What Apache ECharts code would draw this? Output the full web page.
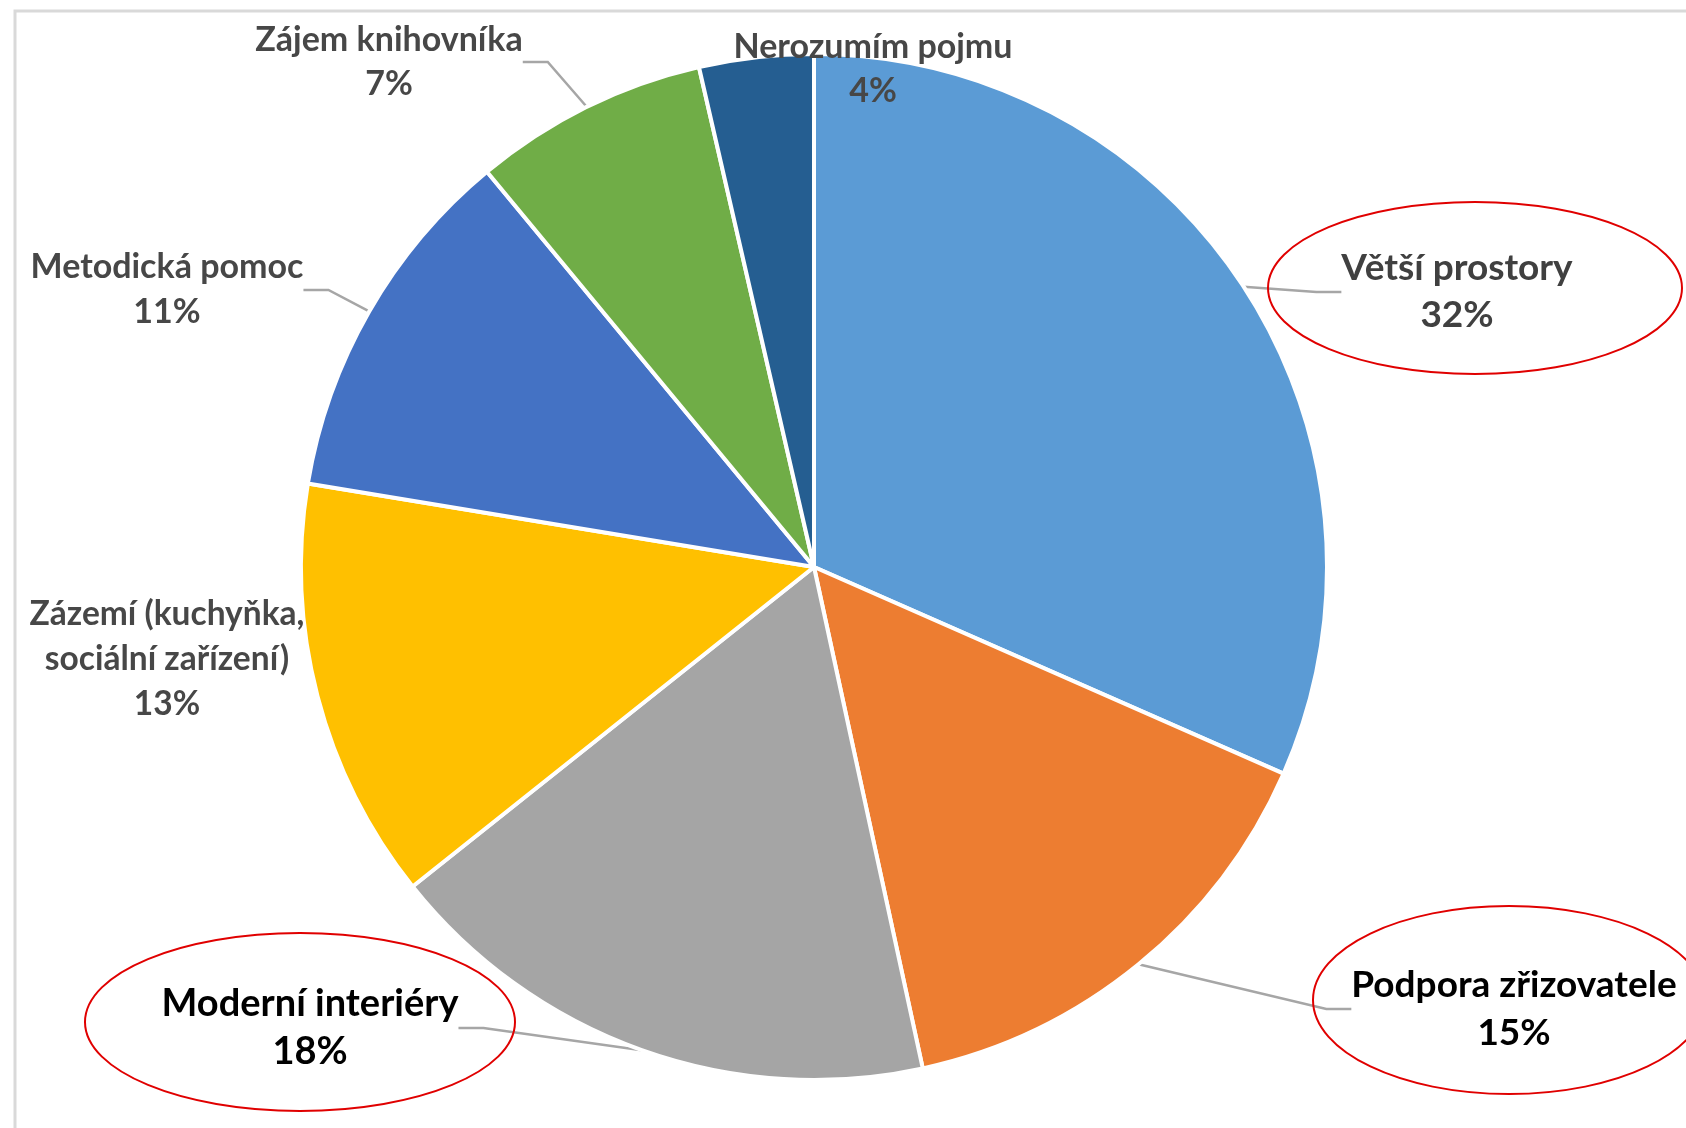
<!DOCTYPE html>
<html>
<head>
<meta charset="utf-8">
<script src="https://cdn.jsdelivr.net/npm/echarts@6/dist/echarts.min.js"></script>
<style>
html,body{margin:0;padding:0;background:#fff;}
#chart{width:1686px;height:1128px;}
</style>
</head>
<body>
<div id="chart"></div>
<script>
// ---- data ----
const categories = [
  'Větší prostory',
  'Podpora zřizovatele',
  'Moderní interiéry',
  'Zázemí (kuchyňka,\nsociální zařízení)',
  'Metodická pomoc',
  'Zájem knihovníka',
  'Nerozumím pojmu'
];
// shares (labels show them rounded)
const values = [31.6, 15.0, 17.7, 13.3, 11.4, 7.4, 3.6];
const colors = ['#5b9bd5', '#ed7d31', '#a5a5a5', '#ffc000', '#4472c4', '#70ad47', '#255e91'];

// ---- label layout (positions / styles kept separate from data) ----
const labelCenters = [
  [1457, 292], [1514, 1009], [310, 1028], [167, 659],
  [167, 290], [389, 62], [873, 69]
];
const labelColors = ['#404040', '#000000', '#000000', '#474747', '#474747', '#474747', '#474747'];
const labelSizes = [37, 37, 38, 33.5, 34, 34, 34];
const labelLineHeights = [47, 48, 48, 45, 45, 44, 44];
const showGuide = [true, true, true, false, true, true, false];

// highlighted labels (red ellipses)
const ellipses = [
  { cx: 1475, cy: 288, rx: 207, ry: 86 },
  { cx: 1509, cy: 1000, rx: 196, ry: 94 },
  { cx: 300, cy: 1022, rx: 215, ry: 89 }
];

const chart = echarts.init(document.getElementById('chart'), null, { renderer: 'canvas' });

const seriesData = categories.map((name, i) => ({
  name: name,
  value: values[i],
  itemStyle: { color: colors[i] },
  label: {
    color: labelColors[i],
    fontSize: labelSizes[i],
    lineHeight: labelLineHeights[i]
  },
  labelLine: { show: showGuide[i] }
}));

const option = {
  backgroundColor: '#ffffff',
  animation: false,
  graphic: [
    {
      type: 'rect',
      z: 0,
      shape: { x: 15, y: 11, width: 1720, height: 1200 },
      style: { fill: 'none', stroke: '#d9d9d9', lineWidth: 3 }
    }
  ].concat(ellipses.map(e => ({
    type: 'ellipse',
    z: 100,
    shape: { cx: e.cx, cy: e.cy, rx: e.rx, ry: e.ry },
    style: { fill: 'none', stroke: '#e00000', lineWidth: 2 }
  }))),
  series: [{
    type: 'pie',
    center: [814, 567],
    radius: 513,
    startAngle: 90,
    clockwise: true,
    avoidLabelOverlap: false,
    percentPrecision: 0,
    itemStyle: { borderColor: '#ffffff', borderWidth: 4 },
    label: {
      show: true,
      position: 'outside',
      formatter: '{b}\n{d}%',
      fontFamily: 'Lato',
      fontWeight: 'bold',
      align: 'center'
    },
    labelLine: {
      show: true,
      length: 10,
      length2: 25,
      smooth: false,
      lineStyle: { color: '#a6a6a6', width: 2.5 }
    },
    labelLayout: function (params) {
      const p = labelCenters[params.dataIndex];
      return { x: p[0], y: p[1], align: 'center', verticalAlign: 'middle' };
    },
    emphasis: { disabled: true },
    data: seriesData
  }]
};

chart.setOption(option);
</script>
</body>
</html>
